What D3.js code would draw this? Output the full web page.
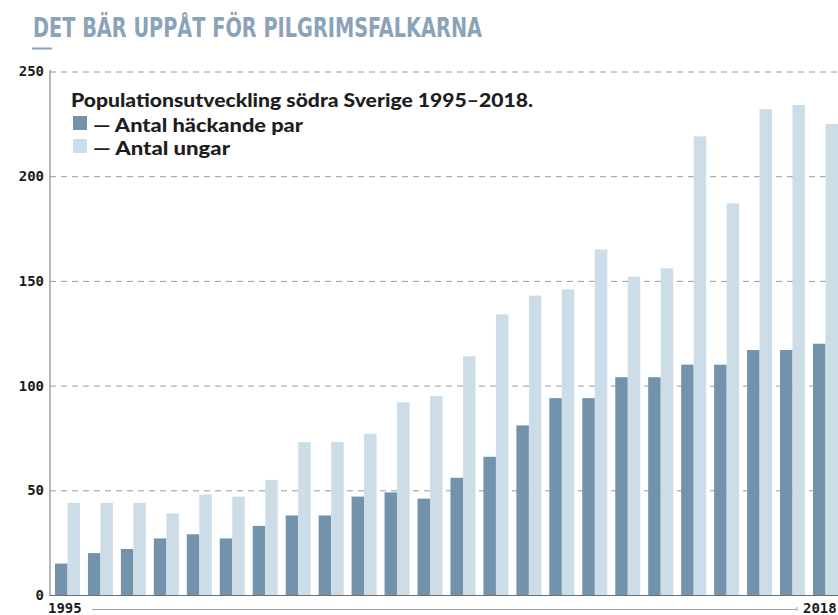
<!DOCTYPE html>
<html>
<head>
<meta charset="utf-8">
<script src="https://cdn.jsdelivr.net/npm/d3@7"></script>
<style>
  html, body { margin: 0; padding: 0; background: #fff; }
  svg { display: block; }
</style>
</head>
<body>
<div id="chart"></div>
<script>
const years = d3.range(1995, 2019);
const pairs = [15, 20, 22, 27, 29, 27, 33, 38, 38, 47, 49, 46, 56, 66, 81, 94, 94, 104, 104, 110, 110, 117, 117, 120];
const chicks = [44, 44, 44, 39, 48, 47, 55, 73, 73, 77, 92, 95, 114, 134, 143, 146, 165, 152, 156, 219, 187, 232, 234, 225];
const seriesNames = ["— Antal häckande par", "— Antal ungar"];
const yTicks = [0, 50, 100, 150, 200, 250];

const W = 838, H = 615;
const colors = ["#7392ab", "#cddde8"];

const svg = d3.select("#chart").append("svg")
  .attr("width", W).attr("height", H)
  .attr("viewBox", `0 0 ${W} ${H}`);

// title
svg.append("text")
  .attr("x", 33).attr("y", 37)
  .attr("fill", "#8aa3b9")
  .attr("font-family", "DejaVu Sans Condensed, DejaVu Sans")
  .attr("font-weight", 700)
  .attr("font-size", 27)
  .attr("textLength", 449)
  .attr("lengthAdjust", "spacingAndGlyphs")
  .text("DET BÄR UPPÅT FÖR PILGRIMSFALKARNA");

svg.append("rect")
  .attr("x", 32).attr("y", 47.5)
  .attr("width", 20).attr("height", 2)
  .attr("fill", "#8aa3b9");

const x = d3.scaleBand()
  .domain(years)
  .range([55, 838])
  .paddingInner(0.241)
  .paddingOuter(0);

const xSub = d3.scaleBand()
  .domain([0, 1])
  .range([0, x.bandwidth()]);

const y = d3.scaleLinear().domain([0, 250]).range([595, 71.5]);

// grid + y labels
const yAxis = d3.axisLeft(y)
  .tickValues(yTicks)
  .tickSize(-(W - 50))
  .tickPadding(6);

const gy = svg.append("g")
  .attr("transform", "translate(50,0)")
  .call(yAxis);

gy.select(".domain").remove();
gy.selectAll(".tick line")
  .attr("stroke", "#9a9a9a")
  .attr("stroke-width", 1)
  .attr("stroke-dasharray", "6,5")
  .filter(d => d === 0).remove();
gy.selectAll(".tick text")
  .attr("x", -6)
  .attr("fill", "#1a1a1a")
  .attr("font-family", "DejaVu Sans Mono")
  .attr("font-weight", 700)
  .attr("font-size", 14);

// bars
const data = years.map((yr, i) => ({ year: yr, vals: [pairs[i], chicks[i]] }));

const groups = svg.append("g").selectAll("g.year")
  .data(data)
  .enter().append("g")
  .attr("class", "year")
  .attr("transform", d => `translate(${x(d.year)},0)`);

groups.selectAll("rect")
  .data(d => d.vals.map((v, k) => ({ k, v })))
  .enter().append("rect")
  .attr("x", d => xSub(d.k))
  .attr("width", xSub.bandwidth())
  .attr("y", d => y(d.v))
  .attr("height", d => y(0) - y(d.v))
  .attr("fill", d => colors[d.k]);

// axis lines
svg.append("line")
  .attr("x1", 50).attr("x2", 50)
  .attr("y1", 70).attr("y2", 596)
  .attr("stroke", "#8a8a8a").attr("stroke-width", 1.2);

svg.append("line")
  .attr("x1", 50).attr("x2", W)
  .attr("y1", y(0) + 0.5).attr("y2", y(0) + 0.5)
  .attr("stroke", "#6f6f6f").attr("stroke-width", 1.2);

// year range line
svg.append("line")
  .attr("x1", 92).attr("x2", 797)
  .attr("y1", 609.5).attr("y2", 609.5)
  .attr("stroke", "#a0a0a0").attr("stroke-width", 1);

svg.append("line")
  .attr("x1", 797).attr("x2", 797)
  .attr("y1", 607).attr("y2", 611)
  .attr("stroke", "#a0a0a0").attr("stroke-width", 1);

svg.append("text")
  .attr("x", x(1995) - 7).attr("y", 613)
  .attr("fill", "#1a1a1a")
  .attr("font-family", "DejaVu Sans Mono")
  .attr("font-weight", 700)
  .attr("font-size", 14)
  .text("1995");

svg.append("text")
  .attr("x", x(2018) - 10).attr("y", 613)
  .attr("fill", "#1a1a1a")
  .attr("font-family", "DejaVu Sans Mono")
  .attr("font-weight", 700)
  .attr("font-size", 14)
  .text("2018");

// legend
const lg = svg.append("g");
lg.append("rect")
  .attr("x", 70).attr("y", 90)
  .attr("width", 470).attr("height", 70)
  .attr("fill", "#fff");

lg.append("text")
  .attr("x", 71).attr("y", 107)
  .attr("fill", "#1e1e1e")
  .attr("font-family", "Lato")
  .attr("font-weight", 900)
  .attr("font-size", 18)
  .attr("textLength", 462)
  .attr("lengthAdjust", "spacingAndGlyphs")
  .text("Populationsutveckling södra Sverige 1995–2018.");

const legendW = [210, 137];
seriesNames.forEach((name, k) => {
  const ry = 116 + k * 23;
  lg.append("rect")
    .attr("x", 73).attr("y", ry)
    .attr("width", 14).attr("height", 14)
    .attr("fill", colors[k]);
  lg.append("text")
    .attr("x", 93).attr("y", ry + 15.5)
    .attr("fill", "#1e1e1e")
    .attr("font-family", "Lato")
    .attr("font-weight", 900)
    .attr("font-size", 18)
    .attr("textLength", legendW[k])
    .attr("lengthAdjust", "spacingAndGlyphs")
    .text(name);
});
</script>
</body>
</html>
